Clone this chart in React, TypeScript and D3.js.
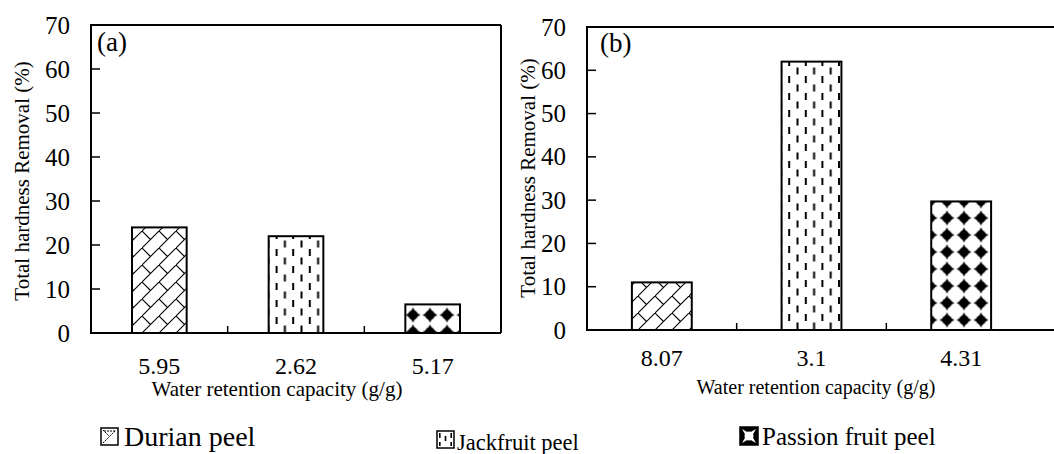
import React from 'react';
import * as d3 from 'd3';

// ---- data ----
const categoriesA: string[] = ['5.95', '2.62', '5.17'];
const valuesA: number[] = [24, 22, 6.5];
const categoriesB: string[] = ['8.07', '3.1', '4.31'];
const valuesB: number[] = [11, 62, 29.7];
const seriesNames: string[] = ['Durian peel', 'Jackfruit peel', 'Passion fruit peel'];
const seriesKeys: string[] = ['durian', 'jackfruit', 'passion'];
const yTicks: number[] = [0, 10, 20, 30, 40, 50, 60, 70];
const panelLabels: string[] = ['(a)', '(b)'];
const yTitle = 'Total hardness Removal (%)';
const xTitle = 'Water retention capacity (g/g)';

const FONT = "'Liberation Serif', 'DejaVu Serif', serif";

type Panel = {
  id: string;
  cats: string[];
  vals: number[];
  label: string;
  left: number;
  frameRight: number;
  bandRight: number;
  top: number;
  bottom: number;
  xTickBaseline: number;
  xTitleX: number;
  xTitleY: number;
  xTitleSize: number;
  yTitleX: number;
  yTitleY: number;
  labelX: number;
  labelY: number;
  passionX: number;
  passionY: number;
};

const panels: Panel[] = [
  {
    id: 'a', cats: categoriesA, vals: valuesA, label: panelLabels[0],
    left: 91, frameRight: 501, bandRight: 501, top: 25, bottom: 333,
    xTickBaseline: 374, xTitleX: 277, xTitleY: 396, xTitleSize: 21,
    yTitleX: 22, yTitleY: 181, labelX: 97, labelY: 51,
    passionX: 404.5, passionY: 306.5,
  },
  {
    id: 'b', cats: categoriesB, vals: valuesB, label: panelLabels[1],
    left: 587, frameRight: 1070, bandRight: 1036, top: 27, bottom: 330,
    xTickBaseline: 366, xTitleX: 816, xTitleY: 394, xTitleSize: 20,
    yTitleX: 528, yTitleY: 178, labelX: 600, labelY: 52,
    passionX: 921.5, passionY: 311.5,
  },
];

const starPath = (cx: number, cy: number, r: number) => {
  const a = r, b = r * 0.36;
  return `M${cx},${cy - a} L${cx + b},${cy - b} L${cx + a},${cy} L${cx + b},${cy + b} L${cx},${cy + a} L${cx - b},${cy + b} L${cx - a},${cy} L${cx - b},${cy - b} Z`;
};

const txt = (size: number): React.CSSProperties => ({ fontFamily: FONT, fontSize: `${size}px` });

function PanelDefs({ p }: { p: Panel }) {
  return (
    <>
      <pattern id={`durian-${p.id}`} patternUnits="userSpaceOnUse" width={17} height={17} x={p.left} y={p.bottom}>
        <rect width={17} height={17} fill="#fff" />
        <path d="M-1,18 L18,-1 M0,0 L8.5,8.5" stroke="#000" strokeWidth={1.1} fill="none" />
      </pattern>
      <pattern id={`jackfruit-${p.id}`} patternUnits="userSpaceOnUse" width={16.6} height={17} x={p.left + 2} y={p.bottom}>
        <rect width={16.6} height={17} fill="#fff" />
        <rect x={0} y={1} width={2} height={7} fill="#000" />
        <rect x={8.3} y={9.5} width={2} height={7} fill="#000" />
      </pattern>
      <pattern id={`passion-${p.id}`} patternUnits="userSpaceOnUse" width={17} height={17} x={p.passionX} y={p.passionY}>
        <rect width={17} height={17} fill="#fff" />
        <circle cx={8.5} cy={8.5} r={4.8} fill="#000" />
        <path d={starPath(8.5, 8.5, 7.4)} fill="#000" />
      </pattern>
    </>
  );
}

function PanelChart({ p }: { p: Panel }) {
  const x = d3.scaleBand<string>().domain(p.cats).range([p.left, p.bandRight]).padding(0);
  const y = d3.scaleLinear().domain([0, 70]).range([p.bottom, p.top]);
  const bw = x.bandwidth() * 0.4;
  const seps = p.cats.slice(1).map((c) => x(c) as number);
  return (
    <g>
      {p.vals.map((v, i) => {
        const cx = (x(p.cats[i]) as number) + x.bandwidth() / 2;
        return (
          <rect
            key={i}
            x={cx - bw / 2}
            y={y(v)}
            width={bw}
            height={y(0) - y(v)}
            fill={`url(#${seriesKeys[i]}-${p.id})`}
            stroke="#000"
            strokeWidth={2}
          />
        );
      })}
      <line x1={p.left} x2={p.frameRight} y1={p.top} y2={p.top} stroke="#000" strokeWidth={2} />
      <line x1={p.frameRight} x2={p.frameRight} y1={p.top} y2={p.bottom} stroke="#000" strokeWidth={2} />
      <line x1={p.left} x2={p.left} y1={p.top - 1} y2={p.bottom + 1} stroke="#000" strokeWidth={2} />
      <line x1={p.left - 1} x2={p.frameRight} y1={p.bottom} y2={p.bottom} stroke="#000" strokeWidth={2} />
      {yTicks.map((t) => (
        <g key={t}>
          <line x1={p.left} x2={p.left + 9} y1={y(t)} y2={y(t)} stroke="#000" strokeWidth={1.5} />
          <text x={p.left - 21} y={y(t) + 8.5} textAnchor="end" style={txt(25)} fill="#000">
            {t}
          </text>
        </g>
      ))}
      {seps.map((s, i) => (
        <line key={i} x1={s} x2={s} y1={p.bottom} y2={p.bottom - 7} stroke="#000" strokeWidth={1.5} />
      ))}
      {p.cats.map((c) => (
        <text
          key={c}
          x={(x(c) as number) + x.bandwidth() / 2}
          y={p.xTickBaseline}
          textAnchor="middle"
          style={txt(24)}
          fill="#000"
        >
          {c}
        </text>
      ))}
      <text x={p.xTitleX} y={p.xTitleY} textAnchor="middle" style={txt(p.xTitleSize)} fill="#000">
        {xTitle}
      </text>
      <text
        transform={`translate(${p.yTitleX},${p.yTitleY}) rotate(-90)`}
        textAnchor="middle"
        dy="0.32em"
        style={txt(21)}
        fill="#000"
      >
        {yTitle}
      </text>
      <text x={p.labelX} y={p.labelY} style={txt(27)} fill="#000">
        {p.label}
      </text>
    </g>
  );
}

type LegendItem = { bx: number; by: number; bs: number; tx: number; ty: number; size: number };
const legendLayout: LegendItem[] = [
  { bx: 101, by: 428, bs: 17, tx: 124, ty: 446, size: 28 },
  { bx: 437, by: 431, bs: 17, tx: 457, ty: 450, size: 22.5 },
  { bx: 740, by: 427, bs: 18, tx: 762, ty: 445, size: 25 },
];

export default function App() {
  return (
    <svg
      width={1054}
      height={454}
      viewBox="0 0 1054 454"
      style={{ position: 'absolute', left: 0, top: 0, background: '#fff' }}
    >
      <defs>
        {panels.map((p) => (
          <PanelDefs key={p.id} p={p} />
        ))}
        <pattern id="leg-durian" patternUnits="userSpaceOnUse" width={17} height={17} x={101} y={428}>
          <rect width={17} height={17} fill="#fff" />
          <path d="M2,15 L15,2 M2,2 L8,8 M3,3 L14,3" stroke="#000" strokeWidth={1} strokeDasharray="2,1" fill="none" />
        </pattern>
        <pattern id="leg-jackfruit" patternUnits="userSpaceOnUse" width={17} height={17} x={437} y={431}>
          <rect width={17} height={17} fill="#fff" />
          <rect x={2} y={2} width={1.6} height={5} fill="#000" />
          <rect x={7.7} y={5} width={1.6} height={5} fill="#000" />
          <rect x={13.4} y={2} width={1.6} height={5} fill="#000" />
          <rect x={2} y={11} width={1.6} height={4} fill="#000" />
          <rect x={13.4} y={11} width={1.6} height={4} fill="#000" />
        </pattern>
        <pattern id="leg-passion" patternUnits="userSpaceOnUse" width={18} height={18} x={740} y={427}>
          <rect width={18} height={18} fill="#000" />
          <circle cx={9} cy={9} r={4.5} fill="#fff" />
          <path d="M2,2 L9,6 L16,2 L12,9 L16,16 L9,12 L2,16 L6,9 Z" fill="#fff" />
        </pattern>
      </defs>
      <rect x={0} y={0} width={1054} height={454} fill="#fff" />
      {panels.map((p) => (
        <PanelChart key={p.id} p={p} />
      ))}
      {seriesNames.map((name, i) => {
        const l = legendLayout[i];
        return (
          <g key={name}>
            <rect x={l.bx} y={l.by} width={l.bs} height={l.bs} fill={`url(#leg-${seriesKeys[i]})`} stroke="#000" strokeWidth={1.5} />
            <text x={l.tx} y={l.ty} style={txt(l.size)} fill="#000">
              {name}
            </text>
          </g>
        );
      })}
    </svg>
  );
}
